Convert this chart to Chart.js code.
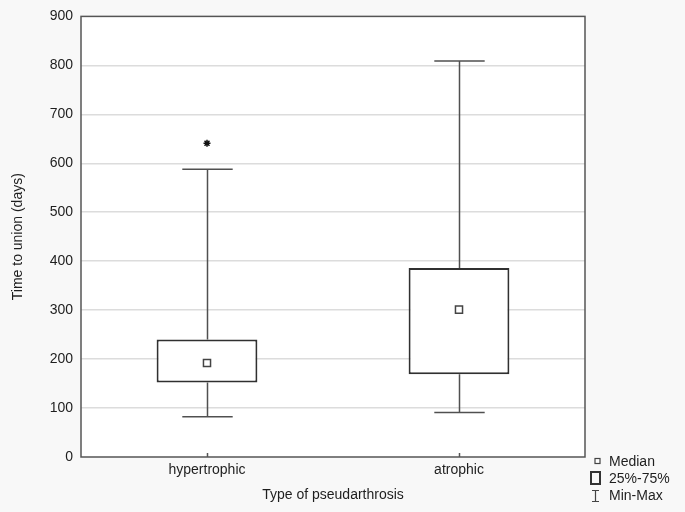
<!DOCTYPE html>
<html>
<head>
<meta charset="utf-8">
<script src="https://cdn.jsdelivr.net/npm/chart.js"></script>
<style>
  html, body { margin: 0; padding: 0; background: #f8f8f8; }
  #wrap { width: 685px; height: 512px; position: relative; }
</style>
</head>
<body>
<div id="wrap"><canvas id="boxChart"></canvas></div>
<script>
// Box plot data (days)
const categories = ['hypertrophic', 'atrophic'];
const minValues = [82, 91];
const q1Values = [152, 169];
const medianValues = [192, 301];
const q3Values = [240, 386];
const maxValues = [588, 809];
const outlierValues = [641, null];
const yTicks = [0, 100, 200, 300, 400, 500, 600, 700, 800, 900];

const FONT = '"Liberation Sans", Arial, sans-serif';
const TEXT = '#1e1e1e';

// Whiskers, frame and the statistics legend drawn on the chart's scales
const boxExtras = {
    id: 'boxExtras',
    beforeDraw(chart) {
        const { ctx, chartArea: a } = chart;
        ctx.save();
        ctx.fillStyle = '#ffffff';
        ctx.fillRect(a.left, a.top, a.right - a.left, a.bottom - a.top);
        ctx.restore();
    },
    beforeDatasetsDraw(chart) {
        const { ctx, scales: { x, y } } = chart;
        ctx.save();
        ctx.strokeStyle = '#505050';
        ctx.lineWidth = 1.5;
        categories.forEach((c, i) => {
            const px = Math.round(x.getPixelForValue(i)) + 0.5;
            const half = x.width / categories.length * 0.1;
            ctx.beginPath();
            ctx.moveTo(px, y.getPixelForValue(maxValues[i]));
            ctx.lineTo(px, y.getPixelForValue(q3Values[i]));
            ctx.moveTo(px, y.getPixelForValue(q1Values[i]));
            ctx.lineTo(px, y.getPixelForValue(minValues[i]));
            ctx.moveTo(px - half, y.getPixelForValue(maxValues[i]));
            ctx.lineTo(px + half, y.getPixelForValue(maxValues[i]));
            ctx.moveTo(px - half, y.getPixelForValue(minValues[i]));
            ctx.lineTo(px + half, y.getPixelForValue(minValues[i]));
            ctx.stroke();
        });
        ctx.restore();
    },
    afterDraw(chart) {
        const { ctx, chartArea: a, scales: { x } } = chart;
        ctx.save();
        // plot frame
        ctx.strokeStyle = '#555555';
        ctx.lineWidth = 1.5;
        ctx.strokeRect(a.left, a.top, a.right - a.left, a.bottom - a.top);
        // inner category ticks
        ctx.beginPath();
        categories.forEach((c, i) => {
            const px = Math.round(x.getPixelForValue(i)) + 0.5;
            ctx.moveTo(px, a.bottom);
            ctx.lineTo(px, a.bottom - 4);
        });
        ctx.stroke();

        // legend
        const lx = a.right + 10;
        ctx.font = '14px ' + FONT;
        ctx.fillStyle = TEXT;
        ctx.textBaseline = 'middle';
        ctx.textAlign = 'left';

        ctx.fillStyle = '#ffffff';
        ctx.strokeStyle = '#444444';
        ctx.lineWidth = 1.2;
        ctx.fillRect(lx, 458.5, 5, 5);
        ctx.strokeRect(lx, 458.5, 5, 5);
        ctx.fillStyle = TEXT;
        ctx.fillText('Median', a.right + 24, 462);

        ctx.strokeStyle = '#333333';
        ctx.lineWidth = 2;
        ctx.strokeRect(lx - 4, 472, 9, 12);
        ctx.fillText('25%-75%', a.right + 24, 479);

        ctx.strokeStyle = '#444444';
        ctx.lineWidth = 1.2;
        ctx.beginPath();
        ctx.moveTo(lx - 3, 490.5); ctx.lineTo(lx + 4, 490.5);
        ctx.moveTo(lx + 0.5, 490.5); ctx.lineTo(lx + 0.5, 501.5);
        ctx.moveTo(lx - 3, 501.5); ctx.lineTo(lx + 4, 501.5);
        ctx.stroke();
        ctx.fillText('Min-Max', a.right + 24, 496);
        ctx.restore();
    }
};

new Chart(document.getElementById('boxChart'), {
    type: 'bar',
    data: {
        labels: categories,
        datasets: [
            {
                label: '25%-75%',
                data: q1Values.map((q, i) => [q, q3Values[i]]),
                backgroundColor: '#ffffff',
                borderColor: '#303030',
                borderWidth: 2,
                borderSkipped: false,
                barPercentage: 0.4,
                categoryPercentage: 1,
                order: 2
            },
            {
                type: 'line',
                label: 'Median',
                data: medianValues,
                showLine: false,
                pointStyle: 'rect',
                pointRadius: 5,
                pointBackgroundColor: '#ffffff',
                pointBorderColor: '#444444',
                pointBorderWidth: 1.5,
                order: 1
            },
            {
                type: 'line',
                label: 'Outliers',
                data: outlierValues,
                showLine: false,
                pointStyle: 'star',
                pointRadius: 3.5,
                pointBorderColor: '#111111',
                pointBorderWidth: 1.5,
                order: 0
            }
        ]
    },
    options: {
        responsive: true,
        maintainAspectRatio: false,
        animation: false,
        layout: {
            padding: { top: 13, right: 100, left: 0, bottom: 0 }
        },
        plugins: {
            legend: { display: false },
            tooltip: { enabled: false }
        },
        scales: {
            x: {
                grid: { display: false, drawTicks: false },
                border: { display: false },
                ticks: {
                    font: { family: FONT, size: 14 },
                    color: TEXT,
                    padding: 5
                },
                title: {
                    display: true,
                    text: 'Type of pseudarthrosis',
                    font: { family: FONT, size: 14 },
                    color: TEXT,
                    padding: { top: 0, bottom: 8 }
                },
                afterFit(scale) { scale.height = 55; }
            },
            y: {
                min: 0,
                max: 900,
                afterBuildTicks(scale) {
                    scale.ticks = yTicks.map(v => ({ value: v }));
                },
                grid: {
                    color: ctx => (ctx.tick && (ctx.tick.value === 0 || ctx.tick.value === 900)) ? 'rgba(0,0,0,0)' : '#dcdcdc',
                    lineWidth: 1.5,
                    drawTicks: false
                },
                border: { display: false },
                ticks: {
                    font: { family: FONT, size: 14 },
                    color: TEXT,
                    padding: 8
                },
                title: {
                    display: true,
                    text: 'Time to union (days)',
                    font: { family: FONT, size: 14 },
                    color: TEXT,
                    padding: { top: 10, bottom: 0 }
                },
                afterFit(scale) { scale.width = 81; }
            }
        }
    },
    plugins: [boxExtras]
});
</script>
</body>
</html>
